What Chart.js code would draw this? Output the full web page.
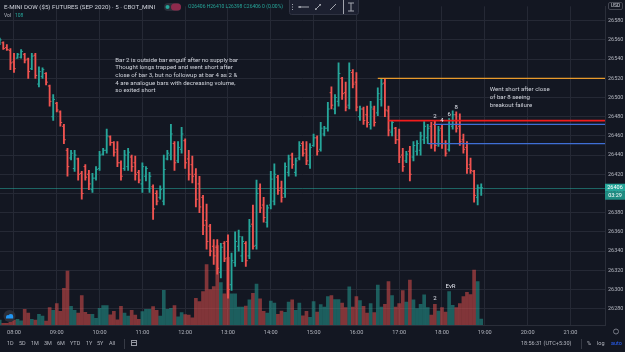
<!DOCTYPE html>
<html>
<head>
<meta charset="utf-8">
<script src="https://cdn.jsdelivr.net/npm/chart.js@4.4.0/dist/chart.umd.min.js"></script>
<style>
html, body { margin: 0; padding: 0; background: #131722; }
#wrap { width: 625px; height: 352px; }
</style>
</head>
<body>
<div id="wrap"><canvas id="chart" width="625" height="352"></canvas></div>
<script>
// 5 min bars, E-mini Dow Sep 2020, 07:40 -> 18:55
var open = [26556, 26557, 26552, 26549, 26537, 26541, 26542, 26545, 26540, 26530, 26544, 26514, 26522, 26525, 26512, 26480, 26494, 26485, 26470, 26445,
    26437, 26426, 26436, 26421, 26428, 26420, 26404, 26416, 26426, 26441, 26445, 26459, 26453, 26446, 26432, 26426, 26428, 26438, 26432, 26422,
    26410, 26418, 26405, 26407, 26400, 26396, 26392, 26436, 26440, 26452, 26434, 26446, 26455, 26436, 26430, 26420, 26410, 26396, 26372, 26366,
    26345, 26344, 26318, 26348, 26350, 26305, 26328, 26345, 26335, 26348, 26335, 26368, 26346, 26405, 26388, 26370, 26388, 26392, 26417, 26406,
    26400, 26422, 26440, 26422, 26437, 26452, 26446, 26430, 26450, 26458, 26446, 26462, 26468, 26505, 26488, 26496, 26520, 26505, 26492, 26526,
    26516, 26480, 26488, 26482, 26472, 26488, 26484, 26498, 26515, 26486, 26464, 26468, 26456, 26440, 26434, 26444, 26438, 26444, 26445, 26456,
    26458, 26470, 26472, 26452, 26468, 26452, 26446, 26470, 26482, 26470, 26456, 26448, 26430, 26423, 26396, 26406];
var high = [26562, 26558, 26555, 26551, 26546, 26546, 26550, 26546, 26541, 26546, 26546, 26532, 26531, 26526, 26513, 26503, 26495, 26486, 26472, 26447,
    26445, 26445, 26437, 26423, 26430, 26424, 26421, 26428, 26444, 26447, 26467, 26460, 26454, 26454, 26434, 26445, 26447, 26440, 26439, 26424,
    26432, 26428, 26422, 26409, 26403, 26408, 26440, 26445, 26472, 26454, 26454, 26469, 26457, 26445, 26439, 26426, 26418, 26398, 26389, 26368,
    26352, 26352, 26348, 26350, 26357, 26338, 26360, 26362, 26355, 26350, 26373, 26388, 26414, 26410, 26396, 26388, 26423, 26431, 26419, 26413,
    26432, 26440, 26442, 26437, 26454, 26454, 26454, 26452, 26462, 26460, 26474, 26470, 26495, 26511, 26503, 26536, 26521, 26516, 26536, 26529,
    26526, 26491, 26490, 26491, 26496, 26491, 26510, 26520, 26520, 26491, 26476, 26469, 26467, 26447, 26444, 26449, 26454, 26455, 26464, 26475,
    26472, 26474, 26476, 26470, 26472, 26455, 26478, 26486, 26485, 26483, 26462, 26454, 26437, 26424, 26409, 26410];
var low = [26555, 26550, 26549, 26529, 26526, 26541, 26541, 26536, 26520, 26529, 26520, 26511, 26520, 26513, 26491, 26476, 26485, 26470, 26452, 26418,
    26435, 26423, 26414, 26394, 26414, 26404, 26401, 26414, 26424, 26440, 26442, 26450, 26439, 26428, 26414, 26424, 26424, 26423, 26414, 26411,
    26401, 26413, 26401, 26373, 26388, 26394, 26388, 26435, 26435, 26424, 26432, 26442, 26426, 26414, 26411, 26386, 26380, 26357, 26342, 26335,
    26326, 26316, 26312, 26329, 26291, 26299, 26324, 26340, 26329, 26324, 26332, 26342, 26342, 26380, 26370, 26365, 26384, 26388, 26399, 26391,
    26396, 26418, 26426, 26418, 26435, 26439, 26430, 26426, 26449, 26440, 26444, 26460, 26465, 26488, 26483, 26491, 26498, 26486, 26488, 26510,
    26486, 26476, 26472, 26469, 26467, 26470, 26481, 26491, 26480, 26460, 26460, 26452, 26432, 26423, 26432, 26413, 26434, 26440, 26440, 26452,
    26452, 26447, 26444, 26449, 26447, 26439, 26444, 26467, 26464, 26450, 26442, 26421, 26421, 26391, 26388, 26398];
var close = [26560, 26551, 26550, 26536, 26530, 26545, 26548, 26539, 26527, 26543, 26523, 26527, 26529, 26516, 26496, 26498, 26487, 26474, 26456, 26428,
    26442, 26440, 26420, 26400, 26417, 26410, 26416, 26425, 26440, 26445, 26460, 26453, 26443, 26432, 26418, 26440, 26443, 26428, 26420, 26414,
    26428, 26426, 26418, 26384, 26392, 26404, 26425, 26442, 26462, 26432, 26448, 26462, 26432, 26420, 26418, 26394, 26386, 26367, 26350, 26340,
    26335, 26322, 26344, 26332, 26300, 26330, 26350, 26355, 26350, 26330, 26366, 26345, 26400, 26385, 26375, 26385, 26415, 26420, 26403, 26396,
    26428, 26436, 26430, 26434, 26450, 26442, 26434, 26448, 26458, 26444, 26468, 26468, 26488, 26492, 26500, 26525, 26504, 26490, 26528, 26514,
    26490, 26488, 26476, 26474, 26490, 26474, 26504, 26514, 26487, 26466, 26474, 26456, 26438, 26428, 26441, 26420, 26450, 26452, 26460, 26470,
    26468, 26452, 26450, 26466, 26452, 26442, 26472, 26482, 26468, 26454, 26446, 26426, 26424, 26398, 26406, 26406];
var volume = [90, 30, 30, 60, 90, 103, 77, 288, 221, 103, 90, 198, 162, 72, 319, 270, 391, 252, 671, 990,
    342, 270, 221, 540, 234, 198, 198, 121, 306, 355, 355, 185, 252, 95, 342, 221, 162, 270, 180, 103,
    247, 288, 288, 337, 270, 162, 635, 288, 306, 355, 149, 229, 193, 180, 131, 491, 432, 612, 1111, 648,
    707, 1458, 779, 571, 1242, 571, 571, 329, 329, 347, 463, 581, 751, 481, 252, 221, 437, 401, 198, 257,
    234, 419, 463, 270, 401, 167, 252, 139, 432, 239, 373, 329, 522, 540, 468, 468, 401, 319, 702, 329,
    522, 450, 342, 221, 391, 229, 733, 329, 378, 797, 540, 329, 391, 630, 419, 823, 463, 301, 378, 553,
    319, 180, 378, 257, 319, 239, 612, 360, 319, 391, 522, 599, 558, 1008, 797, 108];

var startTime = '07:40';
var barMinutes = 5;
var levels = [26520, 26476, 26472, 26452];
var levelStart = ['16:30', '16:45', '17:50', '17:40'];
var levelColors = ['#e89a2c', '#f21c1c', '#3f6fd6', '#3f6fd6'];
var barMarks = ['2', '4', '6', '8'];
var barMarkTimes = ['17:50', '18:00', '18:10', '18:20'];
var volMarks = ['2', 'EvR'];
var volMarkTimes = ['17:50', '18:12'];

var teal = '#26a69a', red = '#ef5350';

function toMin(t) {
    var p = t.split(':');
    return parseInt(p[0], 10) * 60 + parseInt(p[1], 10);
}
function pad(n) { return (n < 10 ? '0' : '') + n; }

var times = [];
var mins = [];
for (var i = 0; i < open.length; i++) {
    var m = toMin(startTime) + i * barMinutes;
    mins.push(m);
    times.push(pad(Math.floor(m / 60)) + ':' + pad(m % 60));
}
function idxOf(t) { return times.indexOf(t); }

function barColors(alpha) {
    return open.map(function (o, i) {
        var up = close[i] >= o;
        if (alpha === 1) return up ? teal : red;
        return up ? 'rgba(38,166,154,' + alpha + ')' : 'rgba(239,83,80,' + alpha + ')';
    });
}

var FONT = 'Roboto, "Liberation Sans", sans-serif';

var ohlcPlugin = {
    id: 'ohlc',
    beforeDatasetsDraw: function (chart) {
        var ctx = chart.ctx, a = chart.chartArea;
        var y = Math.round(chart.scales.y.getPixelForValue(close[close.length - 1])) + 0.5;
        ctx.save();
        ctx.strokeStyle = 'rgba(38,166,154,0.55)';
        ctx.lineWidth = 1;
        ctx.beginPath();
        ctx.moveTo(a.left, y);
        ctx.lineTo(a.right, y);
        ctx.stroke();
        ctx.restore();
    },
    afterDatasetsDraw: function (chart) {
        var ctx = chart.ctx, a = chart.chartArea;
        var xs = chart.scales.x, ys = chart.scales.y, yv = chart.scales.yv;
        var meta = chart.getDatasetMeta(1);
        ctx.save();
        // open / close ticks
        meta.data.forEach(function (bar, i) {
            ctx.fillStyle = close[i] >= open[i] ? teal : red;
            var yo = ys.getPixelForValue(open[i]);
            var yc = ys.getPixelForValue(close[i]);
            ctx.fillRect(bar.x - 1.8, yo - 0.5, 1.8, 1);
            ctx.fillRect(bar.x, yc - 0.5, 1.8, 1);
        });
        // horizontal levels
        levels.forEach(function (lv, k) {
            var y = ys.getPixelForValue(lv);
            ctx.strokeStyle = levelColors[k];
            ctx.lineWidth = k === 1 ? 1.8 : 1.3;
            ctx.beginPath();
            ctx.moveTo(xs.getPixelForValue(toMin(levelStart[k])), y);
            ctx.lineTo(a.right, y);
            ctx.stroke();
        });
        // bar numbers
        ctx.font = '6px ' + FONT;
        ctx.fillStyle = '#e0e3eb';
        ctx.textAlign = 'center';
        ctx.textBaseline = 'bottom';
        barMarks.forEach(function (s, k) {
            var i = idxOf(barMarkTimes[k]);
            ctx.fillText(s, xs.getPixelForValue(mins[i]), ys.getPixelForValue(high[i]) - 1);
        });
        volMarks.forEach(function (s, k) {
            var m = toMin(volMarkTimes[k]);
            var i = Math.min(idxOf(times.filter(function (t) { return toMin(t) <= m; }).pop()), volume.length - 1);
            ctx.fillText(s, xs.getPixelForValue(m), yv.getPixelForValue(volume[i]) - 2.5);
        });
        ctx.restore();
    },
    afterDraw: function (chart) {
        var ctx = chart.ctx, xs = chart.scales.x, ys = chart.scales.y;
        ctx.save();
        ctx.textBaseline = 'middle';
        ctx.textAlign = 'left';

        // notes
        ctx.font = '6.1px ' + FONT;
        ctx.fillStyle = '#d1d4dc';
        var note1 = ['Bar 2 is outside bar engulf after no supply bar',
            'Thought longs trapped and went short after',
            'close of bar 3, but no followup at bar 4 as 2 &',
            '4 are analogue bars with decreasing volume,',
            'so exited short'];
        var n1x = xs.getPixelForValue(toMin('10:22')), n1y = ys.getPixelForValue(26539);
        note1.forEach(function (s, k) { ctx.fillText(s, n1x, n1y + k * 7.7); });
        var note2 = ['Went short after close', 'of bar 8 seeing', 'breakout failure'];
        var n2x = xs.getPixelForValue(toMin('19:07')), n2y = ys.getPixelForValue(26508);
        note2.forEach(function (s, k) { ctx.fillText(s, n2x, n2y + k * 7.7); });

        // header
        ctx.font = '6.2px ' + FONT;
        ctx.fillStyle = '#d1d4dc';
        ctx.fillText('E-MINI DOW ($5) FUTURES (SEP 2020) \u00b7 5 \u00b7 CBOT_MINI', 4, 7);
        ctx.fillStyle = '#2a2e39';
        roundRect(ctx, 164, 3, 17, 8, 4); ctx.fill();
        ctx.fillStyle = '#8e2a4c';
        roundRect(ctx, 171, 3.5, 10, 7, 3.5); ctx.fill();
        ctx.fillStyle = teal;
        ctx.beginPath(); ctx.arc(167.5, 7, 2, 0, Math.PI * 2); ctx.fill();
        ctx.font = '5px ' + FONT;
        ctx.fillStyle = teal;
        var n = close.length - 1;
        var chg = close[n] - open[n];
        ctx.fillText('O' + open[n] + ' H' + high[n] + ' L' + low[n] + ' C' + close[n] + ' ' + chg + ' (0.00%)', 188, 7);
        ctx.fillStyle = '#b2b5be';
        ctx.fillText('Vol', 4, 16);
        ctx.fillStyle = teal;
        ctx.fillText(String(volume[n]), 15, 16);

        // drawing toolbar
        ctx.fillStyle = '#1c2030';
        ctx.strokeStyle = '#2f3342';
        ctx.lineWidth = 1;
        roundRect(ctx, 289.5, -2, 69, 16.5, 2); ctx.fill(); ctx.stroke();
        ctx.strokeStyle = '#a3a6af';
        ctx.fillStyle = '#a3a6af';
        [4.5, 7, 9.5].forEach(function (y) { ctx.fillRect(292, y - 0.5, 1, 1); });
        line(ctx, 298, 7, 309, 7);
        ctx.beginPath(); ctx.arc(300, 7, 1, 0, Math.PI * 2); ctx.fill();
        line(ctx, 315, 10, 321, 4);
        line(ctx, 330, 10, 336, 4);
        ctx.beginPath(); ctx.arc(316, 9, 0.9, 0, Math.PI * 2); ctx.arc(320, 5, 0.9, 0, Math.PI * 2); ctx.fill();
        line(ctx, 348, 3, 354, 3); line(ctx, 351, 3, 351, 11); line(ctx, 348, 11, 354, 11);
        line(ctx, 343.5, 0, 343.5, 14);

        // price scale tags
        ctx.textAlign = 'center';
        ctx.font = '5px ' + FONT;
        ctx.strokeStyle = '#434651';
        ctx.fillStyle = '#131722';
        roundRect(ctx, 608.5, 2.5, 14, 7, 1.5); ctx.fill(); ctx.stroke();
        ctx.fillStyle = '#d1d4dc';
        ctx.fillText('USD', 615.5, 6.2);
        var cy = ys.getPixelForValue(close[n]);
        ctx.fillStyle = teal;
        ctx.fillRect(605, cy - 4, 20, 8);
        ctx.fillStyle = '#1f8c82';
        ctx.fillRect(605, cy + 4, 20, 8);
        ctx.fillStyle = '#ffffff';
        ctx.font = '5.5px ' + FONT;
        ctx.fillText(String(close[n]), 615, cy + 0.3);
        ctx.fillText('03:29', 615, cy + 8.3);

        // gear
        ctx.strokeStyle = '#787b86';
        ctx.beginPath(); ctx.arc(616, 331.5, 2.5, 0, Math.PI * 2); ctx.stroke();

        // bottom toolbar
        ctx.font = '5.5px ' + FONT;
        ctx.fillStyle = '#b2b5be';
        ctx.textAlign = 'left';
        var ranges = ['1D', '5D', '1M', '3M', '6M', 'YTD', '1Y', '5Y', 'All'];
        var rx = [7, 19, 31, 44, 57, 70, 86, 97, 109];
        ranges.forEach(function (s, k) { ctx.fillText(s, rx[k], 344); });
        ctx.strokeStyle = '#363a45';
        line(ctx, 124.5, 339, 124.5, 349);
        ctx.strokeStyle = '#9598a1';
        ctx.strokeRect(131.5, 340.5, 5, 5);
        line(ctx, 131.5, 342.5, 136.5, 342.5);
        ctx.fillText('18:56:31 (UTC+5:30)', 521, 344);
        ctx.strokeStyle = '#363a45';
        line(ctx, 581.5, 339, 581.5, 349);
        ctx.fillText('%', 587, 344);
        ctx.fillText('log', 597, 344);
        ctx.fillStyle = '#2962ff';
        ctx.fillText('auto', 611, 344);

        // logo
        ctx.fillStyle = '#2a2e39';
        ctx.beginPath(); ctx.arc(9.5, 316, 6, 0, Math.PI * 2); ctx.fill();
        ctx.fillStyle = '#2196f3';
        ctx.beginPath();
        ctx.arc(8, 317, 2, Math.PI, 0); ctx.arc(10.8, 316.3, 2.4, Math.PI, 0);
        ctx.lineTo(13.2, 318.5); ctx.lineTo(6, 318.5); ctx.closePath(); ctx.fill();
        ctx.restore();
    }
};

function line(ctx, x1, y1, x2, y2) {
    ctx.beginPath(); ctx.moveTo(x1, y1); ctx.lineTo(x2, y2); ctx.stroke();
}
function roundRect(ctx, x, y, w, h, r) {
    ctx.beginPath();
    ctx.moveTo(x + r, y);
    ctx.arcTo(x + w, y, x + w, y + h, r);
    ctx.arcTo(x + w, y + h, x, y + h, r);
    ctx.arcTo(x, y + h, x, y, r);
    ctx.arcTo(x, y, x + w, y, r);
    ctx.closePath();
}

var gridColor = '#252935';
var ctxEl = document.getElementById('chart');
var chart = new Chart(ctxEl, {
    type: 'bar',
    data: {
        datasets: [{
            label: 'Volume',
            data: mins.map(function (m, i) { return { x: m, y: volume[i] }; }),
            yAxisID: 'yv',
            backgroundColor: barColors(0.5),
            barThickness: 3,
            grouped: false,
            order: 2
        }, {
            label: 'Price',
            data: mins.map(function (m, i) { return { x: m, y: [low[i], high[i]] }; }),
            yAxisID: 'y',
            backgroundColor: barColors(1),
            barThickness: 1.2,
            grouped: false,
            order: 1
        }]
    },
    options: {
        responsive: false,
        animation: false,
        layout: { padding: 0 },
        plugins: { legend: { display: false }, tooltip: { enabled: false } },
        scales: {
            x: {
                type: 'linear',
                min: 460.4,
                max: 1308.5,
                offset: false,
                grid: { color: gridColor, drawTicks: false, offset: false },
                border: { color: '#2a2e39' },
                ticks: {
                    stepSize: 60,
                    includeBounds: false,
                    autoSkip: false,
                    maxRotation: 0,
                    padding: 4,
                    color: '#b2b5be',
                    font: { family: FONT, size: 5.6 },
                    callback: function (v) { return pad(Math.floor(v / 60)) + ':00'; }
                },
                afterFit: function (s) { s.height = 27; }
            },
            y: {
                position: 'right',
                min: 26263,
                max: 26595,
                grid: { color: gridColor, drawTicks: false },
                border: { color: '#2a2e39' },
                ticks: {
                    stepSize: 20,
                    includeBounds: false,
                    padding: 3,
                    color: '#b2b5be',
                    font: { family: FONT, size: 5.5 },
                    callback: function (v) { return String(v); }
                },
                afterFit: function (s) { s.width = 20; }
            },
            yv: { display: false, min: 0, max: 5850 }
        }
    },
    plugins: [ohlcPlugin]
});
</script>
</body>
</html>
